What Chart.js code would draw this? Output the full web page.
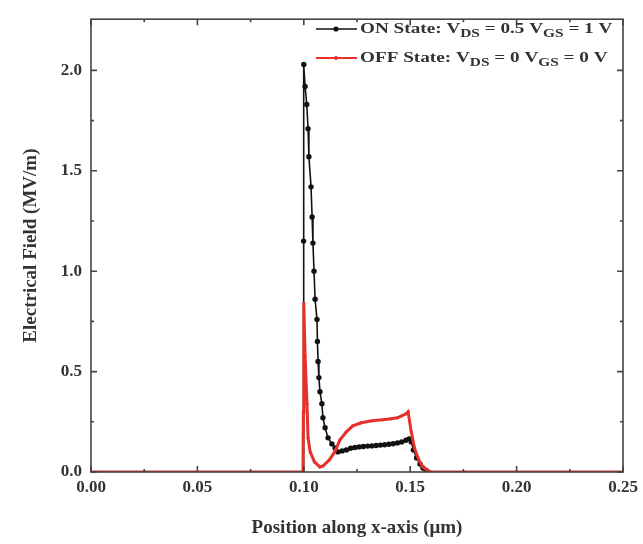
<!DOCTYPE html>
<html><head><meta charset="utf-8">
<script src="https://cdn.jsdelivr.net/npm/chart.js@4.4.1/dist/chart.umd.min.js"></script>
<style>html,body{margin:0;padding:0;background:#fff}#wrap{width:643px;height:544px}</style>
</head><body><div id="wrap"><canvas id="c" width="643" height="544"></canvas></div>
<script>
const xTickValues = [0, 0.05, 0.10, 0.15, 0.20, 0.25];
const yTickValues = [0, 0.5, 1.0, 1.5, 2.0];
const onX = [0, 0.0998, 0.0999, 0.1000, 0.1006, 0.1014, 0.1020, 0.1024, 0.1034, 0.1039, 0.1043, 0.1048, 0.1053, 0.1062, 0.1064, 0.1067, 0.1071, 0.1076, 0.1085, 0.1090, 0.1100, 0.1114, 0.1132, 0.1147, 0.116, 0.118, 0.120, 0.122, 0.124, 0.126, 0.128, 0.130, 0.132, 0.134, 0.136, 0.138, 0.140, 0.142, 0.144, 0.146, 0.148, 0.1495, 0.1505, 0.1515, 0.1530, 0.1546, 0.1560, 0.1575, 0.159, 0.25];
const onY = [0, 0, 1.15, 2.03, 1.92, 1.83, 1.71, 1.57, 1.42, 1.27, 1.14, 1.00, 0.86, 0.76, 0.65, 0.55, 0.47, 0.40, 0.34, 0.27, 0.22, 0.17, 0.14, 0.12, 0.10, 0.105, 0.11, 0.118, 0.122, 0.125, 0.127, 0.129, 0.13, 0.132, 0.134, 0.136, 0.138, 0.141, 0.145, 0.15, 0.158, 0.165, 0.15, 0.11, 0.07, 0.04, 0.02, 0.008, 0, 0];
const offX = [0, 0.0996, 0.0998, 0.1000, 0.1006, 0.1015, 0.1020, 0.1030, 0.1050, 0.1076, 0.1090, 0.1120, 0.1145, 0.1170, 0.1200, 0.1230, 0.1270, 0.1320, 0.1370, 0.1410, 0.1440, 0.1460, 0.1480, 0.1490, 0.1505, 0.1520, 0.1540, 0.1560, 0.1580, 0.1600, 0.25];
const offY = [0, 0, 0.30, 0.84, 0.58, 0.34, 0.17, 0.10, 0.05, 0.025, 0.03, 0.06, 0.10, 0.16, 0.20, 0.23, 0.245, 0.255, 0.26, 0.265, 0.27, 0.28, 0.29, 0.30, 0.20, 0.12, 0.06, 0.025, 0.008, 0, 0];
const legendRows = [
  [['ON State: V', 0], ['DS', 1], [' = 0.5 V', 0], ['GS', 1], [' = 1 V', 0]],
  [['OFF State: V', 0], ['DS', 1], [' = 0 V', 0], ['GS', 1], [' = 0 V', 0]]
];

const pts = (xs, ys) => xs.map((x, i) => ({x, y: ys[i]}));
const serif = '"Liberation Serif", "DejaVu Serif", serif';
const BLACK = '#111', RED = '#e8302a';

const framePlugin = {
  id: 'frame',
  afterDraw(chart) {
    const {ctx, chartArea: a, scales} = chart;
    const xs = scales.x, ys = scales.y;
    ctx.save();
    ctx.strokeStyle = '#444';
    ctx.lineWidth = 1.6;
    ctx.strokeRect(a.left, a.top, a.right - a.left, a.bottom - a.top);
    ctx.beginPath();
    for (let i = 0; i <= 10; i++) {
      const px = xs.getPixelForValue(i * 0.025);
      const len = i % 2 === 0 ? 6 : 3;
      ctx.moveTo(px, a.bottom); ctx.lineTo(px, a.bottom - len);
      ctx.moveTo(px, a.top); ctx.lineTo(px, a.top + len);
    }
    for (let i = 0; i <= 8; i++) {
      const py = ys.getPixelForValue(i * 0.25);
      const len = i % 2 === 0 ? 6 : 3;
      ctx.moveTo(a.left, py); ctx.lineTo(a.left + len, py);
      ctx.moveTo(a.right, py); ctx.lineTo(a.right - len, py);
    }
    ctx.stroke();

    // legend with subscripts
    const styles = [{color: BLACK, r: 2.6, lw: 1.5}, {color: RED, r: 2.0, lw: 2}];
    const yRows = [29, 58];
    const sx = 1.28;
    legendRows.forEach((parts, i) => {
      const y = yRows[i], st = styles[i];
      ctx.strokeStyle = st.color; ctx.fillStyle = st.color; ctx.lineWidth = st.lw;
      ctx.beginPath(); ctx.moveTo(316, y); ctx.lineTo(357, y); ctx.stroke();
      ctx.beginPath(); ctx.arc(336, y, st.r, 0, Math.PI * 2); ctx.fill();
      ctx.save();
      ctx.translate(360, 0);
      ctx.scale(sx, 1);
      let x = 0;
      ctx.fillStyle = '#333';
      ctx.textBaseline = 'middle';
      ctx.textAlign = 'left';
      parts.forEach(([t, sub]) => {
        ctx.font = sub ? 'bold 12px ' + serif : 'bold 15px ' + serif;
        ctx.fillText(t, x, sub ? y + 5 : y);
        x += ctx.measureText(t).width;
      });
      ctx.restore();
    });
    ctx.restore();
  }
};

new Chart(document.getElementById('c'), {
  type: 'line',
  data: {
    datasets: [
      {
        label: 'ON State',
        data: pts(onX, onY),
        borderColor: BLACK,
        backgroundColor: BLACK,
        borderWidth: 1.6,
        pointRadius: ctx => (ctx.raw && ctx.raw.y === 0) ? 0 : 2.7,
        pointBorderWidth: 0,
        tension: 0,
        order: 2
      },
      {
        label: 'OFF State',
        data: pts(offX, offY),
        borderColor: RED,
        backgroundColor: RED,
        borderWidth: 3,
        pointRadius: ctx => (ctx.raw && ctx.raw.y === 0) ? 0 : 1.6,
        pointBorderWidth: 0,
        tension: 0,
        order: 1
      }
    ]
  },
  options: {
    responsive: false,
    animation: false,
    layout: {padding: {left: 0, top: 12, right: 20, bottom: 0}},
    plugins: {legend: {display: false}, tooltip: {enabled: false}},
    scales: {
      x: {
        type: 'linear', min: 0, max: 0.25,
        afterBuildTicks: s => { s.ticks = xTickValues.map(v => ({value: v})); },
        afterFit: s => { s.height = 72; },
        grid: {display: false, drawTicks: false},
        border: {display: false},
        ticks: {
          padding: 5,
          color: '#333',
          font: {family: serif, size: 17, weight: 'bold'},
          callback: v => v.toFixed(2)
        },
        title: {display: true, text: 'Position along x-axis (μm)', color: '#333',
          font: {family: serif, size: 19, weight: 'bold'}, padding: {top: 4, bottom: 5}}
      },
      y: {
        type: 'linear', min: 0, max: 2.255,
        afterBuildTicks: s => { s.ticks = yTickValues.map(v => ({value: v})); },
        afterFit: s => { s.width = 91; },
        grid: {display: false, drawTicks: false},
        border: {display: false},
        ticks: {
          padding: 9,
          color: '#333',
          font: {family: serif, size: 17, weight: 'bold'},
          callback: v => v.toFixed(1)
        },
        title: {display: true, text: 'Electrical Field (MV/m)', color: '#333',
          font: {family: serif, size: 19, weight: 'bold'}, padding: {top: 20, bottom: 4}}
      }
    }
  },
  plugins: [framePlugin]
});
</script>
</body></html>
